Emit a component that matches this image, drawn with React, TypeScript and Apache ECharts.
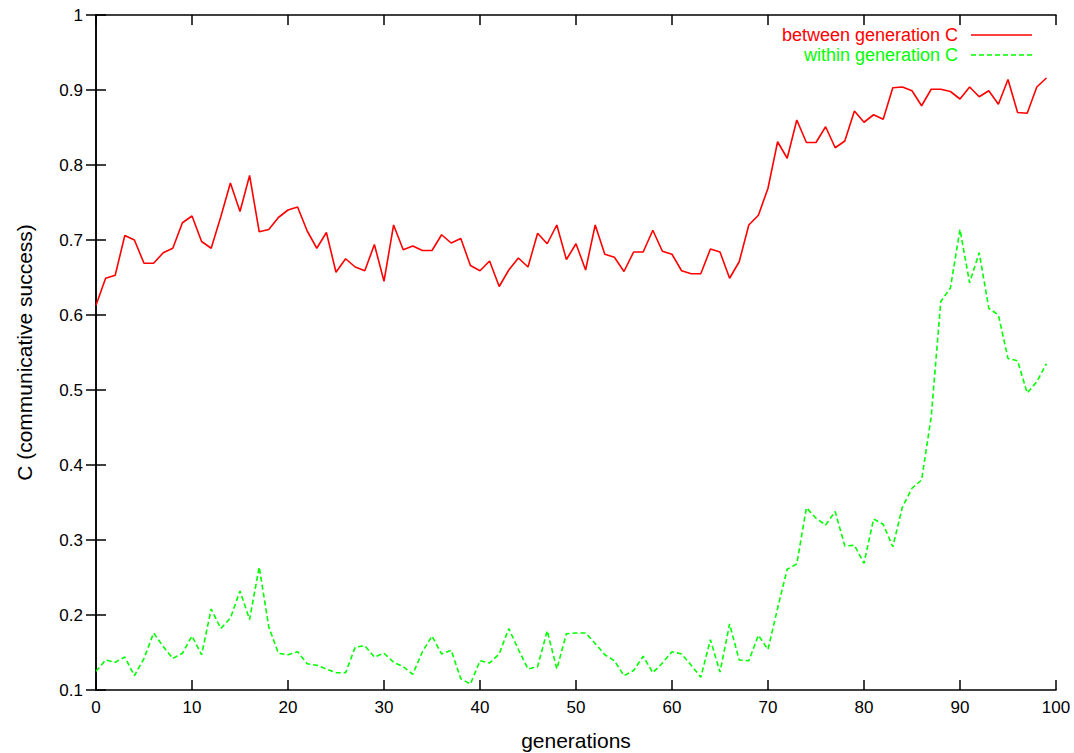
import React, { useEffect, useRef } from "react";
import * as echarts from "echarts";

const generations: number[] = Array.from({ length: 100 }, (_, i) => i);

const betweenC: number[] = [
  0.613, 0.649, 0.653, 0.706, 0.700, 0.669, 0.669, 0.683, 0.689, 0.723,
  0.732, 0.698, 0.689, 0.731, 0.776, 0.738, 0.786, 0.711, 0.714, 0.730,
  0.740, 0.744, 0.712, 0.689, 0.710, 0.657, 0.675, 0.664, 0.659, 0.694,
  0.645, 0.720, 0.687, 0.692, 0.686, 0.686, 0.707, 0.696, 0.702, 0.666,
  0.659, 0.672, 0.638, 0.660, 0.676, 0.664, 0.709, 0.695, 0.720, 0.674,
  0.695, 0.660, 0.720, 0.681, 0.677, 0.658, 0.684, 0.684, 0.713, 0.685,
  0.681, 0.659, 0.655, 0.655, 0.688, 0.684, 0.649, 0.671, 0.720, 0.733,
  0.769, 0.831, 0.809, 0.860, 0.830, 0.830, 0.851, 0.823, 0.832, 0.872,
  0.857, 0.867, 0.861, 0.903, 0.904, 0.899, 0.879, 0.901, 0.901, 0.898,
  0.888, 0.904, 0.891, 0.899, 0.881, 0.914, 0.870, 0.869, 0.904, 0.916,
];

const withinC: number[] = [
  0.125, 0.140, 0.137, 0.144, 0.119, 0.142, 0.176, 0.158, 0.142, 0.149,
  0.172, 0.147, 0.208, 0.182, 0.196, 0.232, 0.194, 0.264, 0.184, 0.149,
  0.147, 0.151, 0.135, 0.133, 0.128, 0.123, 0.123, 0.157, 0.159, 0.144,
  0.149, 0.137, 0.131, 0.121, 0.151, 0.172, 0.148, 0.153, 0.115, 0.108,
  0.139, 0.136, 0.148, 0.182, 0.154, 0.128, 0.131, 0.179, 0.128, 0.175,
  0.176, 0.176, 0.162, 0.147, 0.139, 0.119, 0.126, 0.145, 0.123, 0.136,
  0.151, 0.148, 0.133, 0.117, 0.167, 0.124, 0.188, 0.140, 0.139, 0.173,
  0.154, 0.209, 0.261, 0.268, 0.343, 0.329, 0.320, 0.338, 0.292, 0.293,
  0.269, 0.328, 0.321, 0.291, 0.344, 0.369, 0.380, 0.464, 0.618, 0.636,
  0.714, 0.643, 0.683, 0.609, 0.600, 0.542, 0.539, 0.496, 0.511, 0.535,
];

const seriesNames: string[] = ["between generation C", "within generation C"];
const xAxisName = "generations";
const yAxisName = "C (communicative success)";

const FONT = "'Liberation Sans', Arial, Helvetica, sans-serif";

export default function App() {
  const ref = useRef<HTMLDivElement>(null);

  useEffect(() => {
    if (!ref.current) return;
    const chart = echarts.init(ref.current, undefined, { renderer: "svg" });
    const fmt = (v: number) => String(Math.round(v * 10) / 10);
    const axisLine = { show: true, lineStyle: { color: "#000", width: 1.5 } };
    const axisTick = { show: true, inside: true, length: 10, lineStyle: { color: "#000", width: 1.5 } };
    chart.setOption({
      animation: false,
      backgroundColor: "#fff",
      grid: { left: 96, right: 18, top: 15, bottom: 63, containLabel: false, outerBoundsMode: "none" },
      xAxis: [
        {
          type: "value",
          min: 0,
          max: 100,
          interval: 10,
          position: "bottom",
          name: xAxisName,
          nameLocation: "middle",
          nameGap: 40,
          nameTextStyle: { color: "#000", fontSize: 21, fontFamily: FONT },
          axisLine,
          axisTick,
          axisLabel: { color: "#000", fontSize: 17, fontFamily: FONT, margin: 9, formatter: (v: number) => String(v) },
          splitLine: { show: false },
        },
        {
          type: "value",
          min: 0,
          max: 100,
          interval: 10,
          position: "top",
          axisLine,
          axisTick,
          axisLabel: { show: false },
          splitLine: { show: false },
        },
      ],
      yAxis: [
        {
          type: "value",
          min: 0.1,
          max: 1,
          interval: 0.1,
          position: "left",
          name: yAxisName,
          nameLocation: "middle",
          nameGap: 61,
          nameTextStyle: { color: "#000", fontSize: 21, fontFamily: FONT },
          axisLine,
          axisTick,
          axisLabel: { color: "#000", fontSize: 17, fontFamily: FONT, margin: 13, formatter: fmt },
          splitLine: { show: false },
        },
        {
          type: "value",
          min: 0.1,
          max: 1,
          interval: 0.1,
          position: "right",
          axisLine,
          axisTick,
          axisLabel: { show: false },
          splitLine: { show: false },
        },
      ],
      series: [
        {
          name: seriesNames[0],
          type: "line",
          data: generations.map((g, i) => [g, betweenC[i]]),
          showSymbol: false,
          symbol: "none",
          lineStyle: { color: "#ff0000", width: 1.6 },
          itemStyle: { color: "#ff0000" },
          z: 3,
        },
        {
          name: seriesNames[1],
          type: "line",
          data: generations.map((g, i) => [g, withinC[i]]),
          showSymbol: false,
          symbol: "none",
          lineStyle: { color: "#00ff00", width: 1.6, type: [5, 3] },
          itemStyle: { color: "#00ff00" },
          z: 2,
        },
      ],
      graphic: [
        {
          type: "text",
          x: 958,
          y: 35,
          style: { text: seriesNames[0], fill: "#ff0000", font: `18px ${FONT}`, align: "right", verticalAlign: "middle" },
        },
        {
          type: "line",
          shape: { x1: 971, y1: 35, x2: 1032, y2: 35 },
          style: { stroke: "#ff0000", lineWidth: 1.6 },
        },
        {
          type: "text",
          x: 958,
          y: 55,
          style: { text: seriesNames[1], fill: "#00ff00", font: `18px ${FONT}`, align: "right", verticalAlign: "middle" },
        },
        {
          type: "line",
          shape: { x1: 971, y1: 55, x2: 1032, y2: 55 },
          style: { stroke: "#00ff00", lineWidth: 1.6, lineDash: [5, 3] },
        },
      ],
    });
    return () => chart.dispose();
  }, []);

  return <div ref={ref} style={{ width: 1074, height: 753, position: "absolute", left: 0, top: 0 }} />;
}
